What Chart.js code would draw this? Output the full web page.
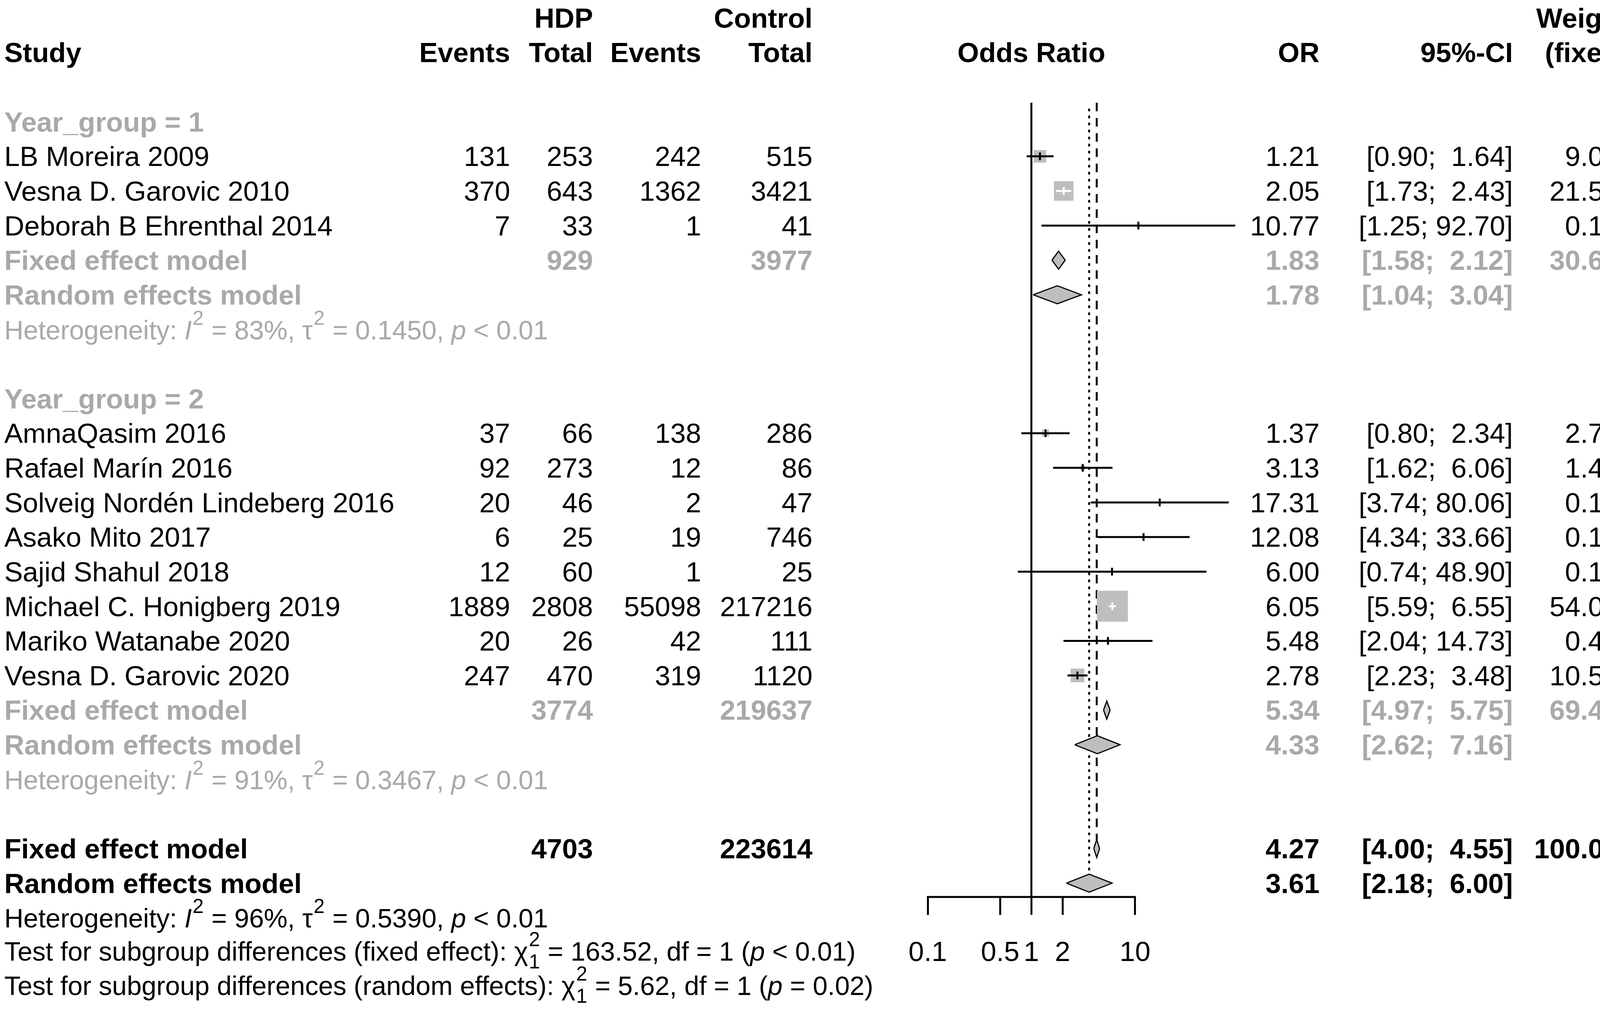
<!doctype html>
<html lang="en">
<head>
<meta charset="UTF-8">
<title>HDP forest plot</title>
<script src="https://cdn.jsdelivr.net/npm/chart.js@4.4.1/dist/chart.umd.min.js"></script>
<style>
  html, body { margin: 0; padding: 0; background: #fff; overflow: hidden; }
  #wrap { width: 4550px; height: 2589px; }
  #forest { display: block; }
</style>
</head>
<body>
<div id="wrap"><canvas id="forest" width="4550" height="2589"></canvas></div>
<script>
// ---- study level data ----
const studies = ["LB Moreira 2009", "Vesna D. Garovic 2010", "Deborah B Ehrenthal 2014",
  "AmnaQasim 2016", "Rafael Marín 2016", "Solveig Nordén Lindeberg 2016", "Asako Mito 2017",
  "Sajid Shahul 2018", "Michael C. Honigberg 2019", "Mariko Watanabe 2020", "Vesna D. Garovic 2020"];
const studyGroup = [1, 1, 1, 2, 2, 2, 2, 2, 2, 2, 2];
const eventsHDP = [131, 370, 7, 37, 92, 20, 6, 12, 1889, 20, 247];
const totalHDP = [253, 643, 33, 66, 273, 46, 25, 60, 2808, 26, 470];
const eventsCtrl = [242, 1362, 1, 138, 12, 2, 19, 1, 55098, 42, 319];
const totalCtrl = [515, 3421, 41, 286, 86, 47, 746, 25, 217216, 111, 1120];
const oddsRatio = [1.21, 2.05, 10.77, 1.37, 3.13, 17.31, 12.08, 6.00, 6.05, 5.48, 2.78];
const ciLower = [0.90, 1.73, 1.25, 0.80, 1.62, 3.74, 4.34, 0.74, 5.59, 2.04, 2.23];
const ciUpper = [1.64, 2.43, 92.70, 2.34, 6.06, 80.06, 33.66, 48.90, 6.55, 14.73, 3.48];
const weightFixed = [9.0, 21.5, 0.1, 2.7, 1.4, 0.1, 0.1, 0.1, 54.0, 0.4, 10.5];
const weightRandom = [11.9, 12.2, 3.8, 10.9, 10.3, 5.8, 8.2, 4.0, 12.4, 8.4, 12.1];

// ---- pooled results: [group 1, group 2, overall] ----
const groupIds = [1, 2];
const pooledTotHDP = [929, 3774, 4703];
const pooledTotCtrl = [3977, 219637, 223614];
const fixedEst = [1.83, 5.34, 4.27];
const fixedLo = [1.58, 4.97, 4.00];
const fixedHi = [2.12, 5.75, 4.55];
const fixedW = [30.6, 69.4, 100.0];
const randomEst = [1.78, 4.33, 3.61];
const randomLo = [1.04, 2.62, 2.18];
const randomHi = [3.04, 7.16, 6.00];
const randomW = [27.9, 72.1, 100.0];
const hetI2 = [83, 91, 96];
const hetTau2 = ["0.1450", "0.3467", "0.5390"];
const hetP = ["< 0.01", "< 0.01", "< 0.01"];
const testNames = ["fixed effect", "random effects"];
const testChi2 = ["163.52", "5.62"];
const testDf = [1, 1];
const testP = ["< 0.01", "= 0.02"];

// ---- x axis ----
const xTicks = [0.1, 0.5, 1, 2, 10];
const xTickLabels = ["0.1", "0.5", "1", "2", "10"];

// ---- layout ----
const FAMILY = '"Liberation Sans", Arial, sans-serif';
const FS = 71;
const FS_NOTE = 68;
const LW = 5;
const GRAY = "#a9a9a9";
const BOX = "#bebebe";
const COL = { study: 11, evH: 1306, totH: 1518, evC: 1795, totC: 2080, or: 3378, ci: 3873, wf: 4168, wr: 4516 };
const HALF_DIAMOND = 0.26;

// row numbers
const studyRow = [], titleRow = [], fixedRow = [], randomRow = [], hetRow = [];
let r = -1;
groupIds.forEach((g, gi) => {
  titleRow[gi] = r++;
  studies.forEach((s, i) => { if (studyGroup[i] === g) studyRow[i] = r++; });
  fixedRow[gi] = r++;
  randomRow[gi] = r++;
  hetRow[gi] = r++;
  r++;
});
fixedRow[2] = r++;
randomRow[2] = r++;
hetRow[2] = r++;
const testRow = [r, r + 1];
const Y_TOP = -1.55, Y_BOTTOM = 21.4;

const allUpper = ciUpper.concat(fixedHi, randomHi);
const upW = Math.max(...allUpper.map(v => v.toFixed(2).length));
const fmtCI = (lo, hi) => "[" + lo.toFixed(2) + "; " + hi.toFixed(2).padStart(upW) + "]";
const fmtW = w => w == null ? "--" : w.toFixed(1) + "%";

const boxSide = i => 10.8 * Math.sqrt(weightFixed[i]);
function insideBox(chart, i) {
  const xs = chart.scales.x;
  if (!xs) return false;
  return xs.getPixelForValue(ciUpper[i]) - xs.getPixelForValue(ciLower[i]) <= boxSide(i);
}

// ---- datasets ----
const datasets = [];
datasets.push({ type: "line", data: [{ x: 1, y: Y_TOP }, { x: 1, y: Y_BOTTOM }],
  borderColor: "#000", borderWidth: LW, pointRadius: 0, clip: false, order: 9 });
datasets.push({ type: "line", data: [{ x: fixedEst[2], y: Y_TOP }, { x: fixedEst[2], y: fixedRow[2] }],
  borderColor: "#000", borderWidth: LW, borderDash: [22, 17], pointRadius: 0, clip: false, order: 8 });
datasets.push({ type: "line", data: [{ x: randomEst[2], y: Y_TOP + 0.17 }, { x: randomEst[2], y: randomRow[2] - HALF_DIAMOND }],
  borderColor: "#000", borderWidth: LW, borderDash: [7, 11], pointRadius: 0, clip: false, order: 8 });

datasets.push({ type: "scatter", data: studies.map((s, i) => ({ x: oddsRatio[i], y: studyRow[i] })),
  pointStyle: "rect", pointRadius: c => boxSide(c.dataIndex) / Math.SQRT2,
  pointBackgroundColor: BOX, pointBorderWidth: 0, clip: false, order: 5 });

studies.forEach((s, i) => {
  datasets.push({ type: "line", data: [{ x: ciLower[i], y: studyRow[i] }, { x: ciUpper[i], y: studyRow[i] }],
    borderColor: c => insideBox(c.chart, i) ? "#fff" : "#000", borderWidth: LW,
    pointRadius: 0, clip: false, order: 4 });
});

datasets.push({ type: "scatter", data: studies.map((s, i) => ({ x: oddsRatio[i], y: studyRow[i] })),
  pointStyle: "line", pointRadius: 10, pointRotation: 90, pointBorderWidth: LW,
  pointBorderColor: c => insideBox(c.chart, c.dataIndex) ? "#fff" : "#000", clip: false, order: 3 });

function diamond(est, lo, hi, row) {
  return { type: "line",
    data: [{ x: lo, y: row }, { x: est, y: row - HALF_DIAMOND }, { x: hi, y: row }, { x: est, y: row + HALF_DIAMOND }, { x: lo, y: row }],
    borderColor: "#000", borderWidth: 3, backgroundColor: BOX, fill: "shape",
    pointRadius: 0, tension: 0, clip: false, order: 2 };
}
for (let k = 0; k < 3; k++) {
  datasets.push(diamond(fixedEst[k], fixedLo[k], fixedHi[k], fixedRow[k]));
  datasets.push(diamond(randomEst[k], randomLo[k], randomHi[k], randomRow[k]));
}

// ---- text table ----
function font(bold, italic, size) {
  return (italic ? "italic " : "") + (bold ? "bold " : "") + (size || FS) + "px " + FAMILY;
}
// plotmath-like line: italic letters, superscripts and a stacked sub/superscript
function drawRich(ctx, x, y, parts, color) {
  let cx = x, pending = 0;
  ctx.fillStyle = color;
  ctx.textAlign = "left";
  parts.forEach(p => {
    const small = p.sup || p.sub;
    ctx.font = font(false, p.it, small ? Math.round(FS_NOTE * 0.75) : FS_NOTE);
    const dy = p.sup ? -37 : (p.sub ? 20 : 0);
    const w = ctx.measureText(p.t).width;
    ctx.fillText(p.t, cx + (small ? 2 : 0), y + dy);
    if (p.stack) { pending = w + 2; } else { cx += Math.max(w + (small ? 3 : 0), pending); pending = 0; }
  });
}

const tablePlugin = {
  id: "forestTable",
  afterDraw(chart) {
    const ctx = chart.ctx;
    const ys = chart.scales.y, xs = chart.scales.x;
    const py = row => ys.getPixelForValue(row) + 25;
    const txt = (s, x, row, align, bold, color) => {
      ctx.font = font(bold);
      ctx.textAlign = align;
      ctx.fillStyle = color || "#000";
      ctx.fillText(s, x, py(row));
    };
    ctx.save();
    ctx.textBaseline = "alphabetic";

    // axis line from 0.1 to 10
    ctx.strokeStyle = "#000";
    ctx.lineWidth = LW;
    ctx.beginPath();
    ctx.moveTo(xs.getPixelForValue(xTicks[0]) - 2, chart.chartArea.bottom);
    ctx.lineTo(xs.getPixelForValue(xTicks[xTicks.length - 1]) + 2, chart.chartArea.bottom);
    ctx.stroke();

    // header
    txt("HDP", COL.totH, -4, "right", true);
    txt("Control", COL.totC, -4, "right", true);
    txt("Weight", COL.wf, -4, "right", true);
    txt("Weight", COL.wr, -4, "right", true);
    txt("Study", COL.study, -3, "left", true);
    txt("Events", COL.evH, -3, "right", true);
    txt("Total", COL.totH, -3, "right", true);
    txt("Events", COL.evC, -3, "right", true);
    txt("Total", COL.totC, -3, "right", true);
    txt("Odds Ratio", xs.getPixelForValue(1), -3, "center", true);
    txt("OR", COL.or, -3, "right", true);
    txt("95%-CI", COL.ci, -3, "right", true);
    txt("(fixed)", COL.wf, -3, "right", true);
    txt("(random)", COL.wr, -3, "right", true);

    // studies
    studies.forEach((s, i) => {
      const row = studyRow[i];
      txt(s, COL.study, row, "left", false);
      txt(String(eventsHDP[i]), COL.evH, row, "right", false);
      txt(String(totalHDP[i]), COL.totH, row, "right", false);
      txt(String(eventsCtrl[i]), COL.evC, row, "right", false);
      txt(String(totalCtrl[i]), COL.totC, row, "right", false);
      txt(oddsRatio[i].toFixed(2), COL.or, row, "right", false);
      txt(fmtCI(ciLower[i], ciUpper[i]), COL.ci, row, "right", false);
      txt(fmtW(weightFixed[i]), COL.wf, row, "right", false);
      txt(fmtW(weightRandom[i]), COL.wr, row, "right", false);
    });

    // pooled rows
    for (let k = 0; k < 3; k++) {
      const c = k < 2 ? GRAY : "#000";
      if (k < 2) txt("Year_group = " + groupIds[k], COL.study, titleRow[k], "left", true, c);
      let row = fixedRow[k];
      txt("Fixed effect model", COL.study, row, "left", true, c);
      txt(String(pooledTotHDP[k]), COL.totH, row, "right", true, c);
      txt(String(pooledTotCtrl[k]), COL.totC, row, "right", true, c);
      txt(fixedEst[k].toFixed(2), COL.or, row, "right", true, c);
      txt(fmtCI(fixedLo[k], fixedHi[k]), COL.ci, row, "right", true, c);
      txt(fmtW(fixedW[k]), COL.wf, row, "right", true, c);
      txt("--", COL.wr, row, "right", true, c);
      row = randomRow[k];
      txt("Random effects model", COL.study, row, "left", true, c);
      txt(randomEst[k].toFixed(2), COL.or, row, "right", true, c);
      txt(fmtCI(randomLo[k], randomHi[k]), COL.ci, row, "right", true, c);
      txt("--", COL.wf, row, "right", true, c);
      txt(fmtW(randomW[k]), COL.wr, row, "right", true, c);

      drawRich(ctx, COL.study, py(hetRow[k]), [
        { t: "Heterogeneity: " }, { t: "I", it: 1 }, { t: "2", sup: 1 },
        { t: " = " + hetI2[k] + "%, " }, { t: "τ" }, { t: "2", sup: 1 },
        { t: " = " + hetTau2[k] + ", " }, { t: "p", it: 1 }, { t: " " + hetP[k] }
      ], c);
    }

    // subgroup tests
    testNames.forEach((n, k) => {
      drawRich(ctx, COL.study, py(testRow[k]) - 4, [
        { t: "Test for subgroup differences (" + n + "): " }, { t: "χ" },
        { t: "2", sup: 1, stack: 1 }, { t: String(testDf[k]), sub: 1 },
        { t: " = " + testChi2[k] + ", df = " + testDf[k] + " (" }, { t: "p", it: 1 }, { t: " " + testP[k] + ")" }
      ], "#000");
    });
    ctx.restore();
  }
};

Chart.defaults.font.family = FAMILY;
new Chart(document.getElementById("forest"), {
  type: "scatter",
  data: { datasets },
  plugins: [tablePlugin],
  options: {
    responsive: false,
    devicePixelRatio: 1,
    animation: false,
    events: [],
    layout: { padding: { left: 2375, right: 1379, top: 263, bottom: 0 } },
    plugins: { legend: { display: false }, tooltip: { enabled: false } },
    scales: {
      x: {
        type: "logarithmic",
        min: 0.1,
        max: 100,
        position: "bottom",
        afterBuildTicks: s => { s.ticks = xTicks.map(v => ({ value: v })); },
        afterFit: s => { s.height = 292; s.paddingLeft = 0; s.paddingRight = 0; },
        border: { display: false },
        grid: { drawOnChartArea: false, drawTicks: true, tickLength: 46, tickWidth: LW, tickColor: "#000" },
        ticks: {
          autoSkip: false, maxRotation: 0, minRotation: 0, padding: 56,
          color: "#000", font: { size: FS, family: FAMILY },
          callback: (v, i) => xTickLabels[i]
        }
      },
      y: { type: "linear", min: Y_TOP, max: Y_BOTTOM, reverse: true, display: false }
    }
  }
});
</script>
</body>
</html>
